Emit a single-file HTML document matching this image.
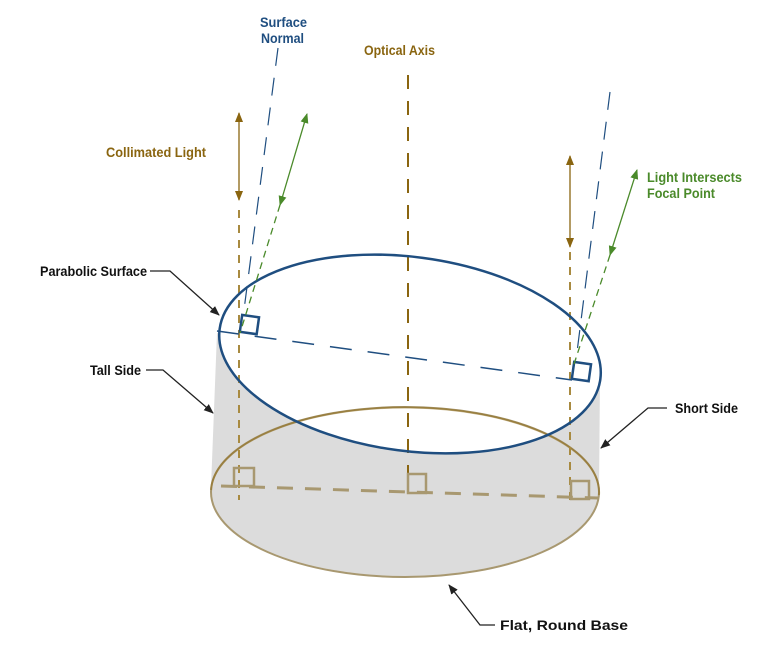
<!DOCTYPE html>
<html><head><meta charset="utf-8"><style>
html,body{margin:0;padding:0;background:#fff;}
svg{display:block;}
text{font-family:"Liberation Sans Narrow","Liberation Sans",sans-serif;font-size:14px;font-weight:bold;}
</style></head><body>
<svg width="780" height="650" viewBox="0 0 780 650" xmlns="http://www.w3.org/2000/svg">
<defs>
<marker id="ab" markerWidth="10" markerHeight="10" refX="9" refY="5" orient="auto" markerUnits="userSpaceOnUse"><path d="M0,1 L10,5 L0,9 Z" fill="#222"/></marker>
<marker id="ag" markerWidth="10" markerHeight="10" refX="9" refY="5" orient="auto-start-reverse" markerUnits="userSpaceOnUse"><path d="M0,1 L10,5 L0,9 Z" fill="#8a6510"/></marker>
<marker id="agr" markerWidth="10" markerHeight="10" refX="9" refY="5" orient="auto-start-reverse" markerUnits="userSpaceOnUse"><path d="M0,1 L10,5 L0,9 Z" fill="#4a8a2a"/></marker>
</defs>
<path d="M217,333 L211,487 A194,85 0 0 0 599,495 L600,375 Z" fill="#dcdcdc"/>
<ellipse cx="410" cy="354" rx="192" ry="97" transform="rotate(7.5 410 354)" fill="#fff"/>
<ellipse cx="405" cy="492" rx="194" ry="85" fill="none" stroke="#a89870" stroke-width="2"/>
<path d="M211,490 A194,85 0 0 1 599,495" fill="none" stroke="#8a6510" stroke-width="2" opacity="0.5"/>
<g stroke="#a88a40" stroke-width="2" stroke-dasharray="8,7" fill="none">
<line x1="239" y1="210" x2="239" y2="500"/>
<line x1="570" y1="252" x2="570" y2="500"/>
</g>
<line x1="408" y1="75" x2="408" y2="480" stroke="#8a6510" stroke-width="2" stroke-dasharray="14,12"/>
<line x1="221" y1="486" x2="598" y2="498" stroke="#a89870" stroke-width="3" stroke-dasharray="16,12"/>
<g fill="none" stroke="#a89870" stroke-width="2.5">
<rect x="234" y="468" width="20" height="18"/>
<rect x="408" y="474" width="18" height="19"/>
<rect x="571" y="481" width="18" height="18"/>
</g>
<ellipse cx="410" cy="354" rx="192" ry="97" transform="rotate(7.5 410 354)" fill="none" stroke="#1f4e80" stroke-width="2.5"/>
<line x1="217" y1="331" x2="572" y2="380" stroke="#1f4e80" stroke-width="1.5" stroke-dasharray="22,16"/>
<line x1="278" y1="48" x2="244" y2="310" stroke="#1f4e80" stroke-width="1.2" stroke-dasharray="18,12"/>
<line x1="610" y1="92" x2="576" y2="360" stroke="#1f4e80" stroke-width="1.2" stroke-dasharray="18,12"/>
<g fill="none" stroke="#1f4e80" stroke-width="2.5">
<rect x="241" y="316" width="17" height="17" transform="rotate(8 249 324)"/>
<rect x="573" y="363" width="17" height="17" transform="rotate(8 581 371)"/>
</g>
<line x1="307" y1="114" x2="280" y2="205" stroke="#4a8a2a" stroke-width="1.3" marker-start="url(#agr)" marker-end="url(#agr)"/>
<line x1="280" y1="205" x2="240" y2="333" stroke="#4a8a2a" stroke-width="1.3" stroke-dasharray="7,5"/>
<line x1="637" y1="170" x2="610" y2="255" stroke="#4a8a2a" stroke-width="1.3" marker-start="url(#agr)" marker-end="url(#agr)"/>
<line x1="610" y1="255" x2="573" y2="367" stroke="#4a8a2a" stroke-width="1.3" stroke-dasharray="7,5"/>
<line x1="239" y1="113" x2="239" y2="200" stroke="#8a6510" stroke-width="1.3" marker-start="url(#ag)" marker-end="url(#ag)"/>
<line x1="570" y1="156" x2="570" y2="247" stroke="#8a6510" stroke-width="1.3" marker-start="url(#ag)" marker-end="url(#ag)"/>
<g stroke="#222" stroke-width="1.3" fill="none">
<polyline points="150,271 170,271 219,315" marker-end="url(#ab)"/>
<polyline points="146,370 163,370 213,413" marker-end="url(#ab)"/>
<polyline points="667,408 648,408 601,448" marker-end="url(#ab)"/>
<polyline points="495,625 480,625 449,585" marker-end="url(#ab)"/>
</g>
<g lengthAdjust="spacingAndGlyphs">
<text x="260" y="27" fill="#1f4e80" textLength="47" lengthAdjust="spacingAndGlyphs">Surface</text>
<text x="261" y="43" fill="#1f4e80" textLength="43" lengthAdjust="spacingAndGlyphs">Normal</text>
<text x="364" y="55" fill="#8a6510" textLength="71" lengthAdjust="spacingAndGlyphs">Optical Axis</text>
<text x="106" y="157" fill="#8a6510" textLength="100" lengthAdjust="spacingAndGlyphs">Collimated Light</text>
<text x="647" y="182" fill="#4a8a2a" textLength="95" lengthAdjust="spacingAndGlyphs">Light Intersects</text>
<text x="647" y="198" fill="#4a8a2a" textLength="68" lengthAdjust="spacingAndGlyphs">Focal Point</text>
<text x="40" y="276" fill="#111" textLength="107" lengthAdjust="spacingAndGlyphs">Parabolic Surface</text>
<text x="90" y="375" fill="#111" textLength="51" lengthAdjust="spacingAndGlyphs">Tall Side</text>
<text x="675" y="413" fill="#111" textLength="63" lengthAdjust="spacingAndGlyphs">Short Side</text>
<text x="500" y="630" fill="#111" textLength="128" lengthAdjust="spacingAndGlyphs">Flat, Round Base</text>
</g>
</svg>
</body></html>
